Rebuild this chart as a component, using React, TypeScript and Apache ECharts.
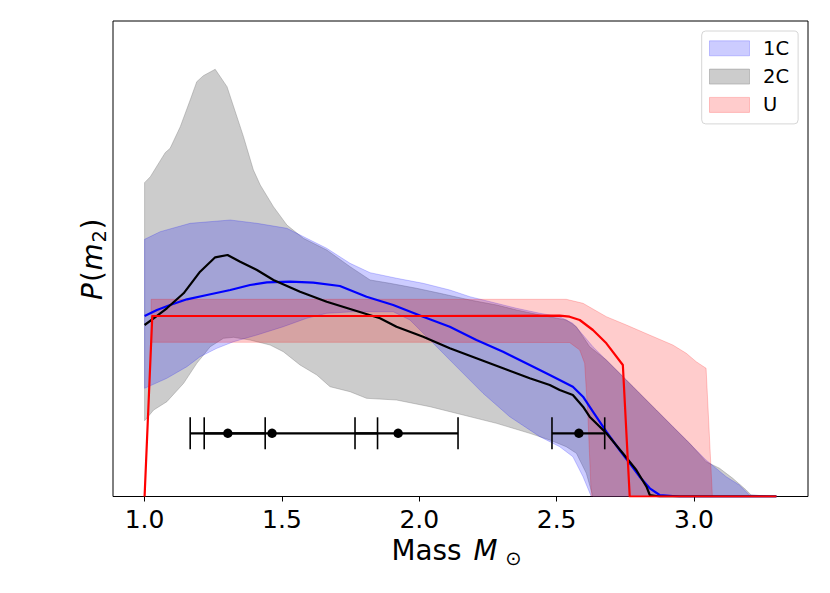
import { useEffect, useRef } from 'react';
import * as echarts from 'echarts';

// ---- axis ----
const xTicks = [1.0, 1.5, 2.0, 2.5, 3.0];
const xMin = 0.885;
const xMax = 3.415;
const yMin = 0;
const yMax = 4.755;

// ---- 1C band (blue) ----
const band1CUpper: number[][] = [
  [1.0, 2.572], [1.057, 2.648], [1.166, 2.732], [1.312, 2.765], [1.409, 2.732], [1.518, 2.682],
  [1.59, 2.582], [1.663, 2.482], [1.748, 2.332], [1.821, 2.238], [1.918, 2.182], [2.014, 2.132],
  [2.111, 2.065], [2.184, 1.998], [2.281, 1.932], [2.354, 1.882], [2.439, 1.832], [2.511, 1.798],
  [2.559, 1.732], [2.596, 1.615], [2.632, 1.498], [2.705, 1.298], [2.778, 1.098], [2.85, 0.898],
  [2.899, 0.765], [2.972, 0.565], [3.044, 0.365], [3.117, 0.198], [3.165, 0.115], [3.202, 0.015],
  [3.3, 0],
];
const band1CLower: number[][] = [
  [1.0, 1.082], [1.081, 1.182], [1.154, 1.298], [1.202, 1.398], [1.263, 1.482], [1.324, 1.548],
  [1.409, 1.615], [1.505, 1.698], [1.59, 1.782], [1.663, 1.832], [1.76, 1.848], [1.905, 1.848],
  [1.966, 1.765], [2.039, 1.565], [2.123, 1.332], [2.232, 1.032], [2.329, 0.798], [2.439, 0.598],
  [2.511, 0.498], [2.559, 0.398], [2.596, 0.198], [2.626, 0], [3.3, 0],
];

// ---- 2C band (grey) ----
const band2CUpper: number[][] = [
  [1.0, 3.138], [1.021, 3.198], [1.075, 3.438], [1.093, 3.482], [1.13, 3.698], [1.166, 3.965],
  [1.19, 4.148], [1.214, 4.208], [1.257, 4.272], [1.3, 4.098], [1.336, 3.798], [1.36, 3.598],
  [1.396, 3.265], [1.421, 3.115], [1.469, 2.898], [1.518, 2.715], [1.578, 2.582], [1.663, 2.465],
  [1.748, 2.298], [1.821, 2.165], [1.893, 2.132], [1.99, 2.082], [2.075, 2.032], [2.184, 1.965],
  [2.281, 1.915], [2.354, 1.865], [2.439, 1.815], [2.535, 1.765], [2.572, 1.698], [2.596, 1.598],
  [2.62, 1.498], [2.681, 1.365], [2.754, 1.165], [2.802, 1.032], [2.863, 0.865], [2.923, 0.698],
  [2.984, 0.532], [3.044, 0.348], [3.093, 0.282], [3.141, 0.182], [3.19, 0.065], [3.208, 0.015],
  [3.3, 0],
];
const band2CLower: number[][] = [
  [1.0, 0.758], [1.033, 0.865], [1.081, 0.948], [1.142, 1.132], [1.19, 1.332], [1.239, 1.498],
  [1.287, 1.582], [1.324, 1.592], [1.384, 1.565], [1.457, 1.515], [1.505, 1.448], [1.566, 1.315],
  [1.627, 1.215], [1.675, 1.098], [1.748, 1.048], [1.808, 0.982], [1.917, 0.965], [2.039, 0.898],
  [2.16, 0.815], [2.281, 0.732], [2.402, 0.632], [2.475, 0.565], [2.535, 0.498], [2.572, 0.432],
  [2.608, 0.232], [2.632, 0], [3.3, 0],
];

// ---- U band (red) ----
const bandUUpper: number[][] = [
  [1.024, 1.972], [1.5, 1.972], [2.0, 1.972], [2.535, 1.972], [2.596, 1.932], [2.681, 1.798],
  [2.754, 1.715], [2.838, 1.615], [2.923, 1.515], [2.972, 1.432], [3.008, 1.348], [3.044, 1.282],
  [3.067, 0], [3.3, 0],
];
const bandULower: number[][] = [
  [1.024, 1.542], [1.5, 1.542], [2.0, 1.542], [2.547, 1.54], [2.584, 1.465], [2.602, 1.332],
  [2.614, 0.798], [2.626, 0], [3.3, 0],
];

// ---- mean curves ----
const mean1C: number[][] = [
  [1.0, 1.805], [1.045, 1.865], [1.093, 1.915], [1.154, 1.972], [1.227, 2.015], [1.312, 2.065],
  [1.384, 2.115], [1.445, 2.142], [1.53, 2.148], [1.614, 2.138], [1.711, 2.105], [1.808, 1.998],
  [1.905, 1.915], [2.014, 1.798], [2.111, 1.698], [2.208, 1.565], [2.305, 1.448], [2.402, 1.315],
  [2.475, 1.215], [2.559, 1.098], [2.596, 0.998], [2.632, 0.848], [2.681, 0.648], [2.729, 0.465],
  [2.766, 0.332], [2.802, 0.198], [2.839, 0.082], [2.875, 0.015], [2.947, 0], [3.3, 0],
];
const mean2C: number[][] = [
  [1.0, 1.715], [1.033, 1.782], [1.081, 1.882], [1.142, 2.032], [1.202, 2.248], [1.257, 2.392],
  [1.302, 2.415], [1.348, 2.348], [1.409, 2.265], [1.469, 2.165], [1.566, 2.048], [1.663, 1.948],
  [1.76, 1.865], [1.857, 1.782], [1.917, 1.698], [2.014, 1.598], [2.111, 1.482], [2.208, 1.382],
  [2.305, 1.282], [2.402, 1.182], [2.475, 1.115], [2.511, 1.065], [2.559, 1.015], [2.596, 0.898],
  [2.62, 0.798], [2.681, 0.632], [2.741, 0.432], [2.79, 0.265], [2.827, 0.098], [2.839, 0.015],
  [2.875, 0], [3.3, 0],
];
const meanU: number[][] = [
  [1.0, 0], [1.028, 1.805], [1.5, 1.805], [2.0, 1.805], [2.511, 1.808], [2.547, 1.798],
  [2.584, 1.765], [2.632, 1.665], [2.681, 1.532], [2.741, 1.315], [2.766, 0], [3.3, 0],
];

// ---- measured masses with error bars ----
const errCenters = [1.303, 1.464, 1.923, 2.581];
const errLow = [1.166, 1.217, 1.766, 2.483];
const errHigh = [1.439, 1.848, 2.141, 2.675];
const errY = [0.632, 0.632, 0.632, 0.632];

const FONT = 'DejaVu Sans';

function bandSeries(name: string, upper: number[][], lower: number[][], color: string, z: number) {
  const poly = upper.concat(lower.slice().reverse());
  return {
    type: 'custom',
    name,
    coordinateSystem: 'cartesian2d',
    data: poly,
    clip: true,
    silent: true,
    z,
    itemStyle: { color, borderColor: color, borderWidth: 1 },
    renderItem: (params: any, api: any) => {
      if (params.dataIndex !== 0) return null;
      const pts = poly.map((p) => api.coord(p));
      return {
        type: 'polygon',
        shape: { points: pts },
        style: { fill: color, stroke: color, lineWidth: 1 },
      };
    },
  };
}

function lineSeries(name: string, data: number[][], color: string, z: number) {
  return {
    type: 'line',
    name,
    data,
    showSymbol: false,
    symbol: 'none',
    silent: true,
    z,
    lineStyle: { color, width: 2.2, join: 'round' },
    itemStyle: { color },
  };
}

export default function App() {
  const ref = useRef<HTMLDivElement>(null);
  useEffect(() => {
    if (!ref.current) return;
    const chart = echarts.init(ref.current, undefined, { renderer: 'svg' });
    const blue = 'rgba(0,0,255,0.2)';
    const grey = 'rgba(128,128,128,0.4)';
    const red = 'rgba(255,0,0,0.2)';
    chart.setOption({
      animation: false,
      backgroundColor: '#ffffff',
      grid: {
        left: 113,
        top: 21,
        width: 695,
        height: 475.5,
        show: true,
        borderColor: '#000',
        borderWidth: 1,
        backgroundColor: 'transparent',
      },
      legend: {
        orient: 'vertical',
        left: 701.7,
        top: 31,
        padding: [7.3, 9, 9, 7.3],
        itemWidth: 40,
        itemHeight: 15,
        itemGap: 8.3,
        borderColor: '#d6d6d6',
        borderWidth: 1,
        borderRadius: 4,
        backgroundColor: 'rgba(255,255,255,0.8)',
        selectedMode: false,
        textStyle: { fontFamily: FONT, fontSize: 19.5, color: '#000', lineHeight: 20, padding: [0, 0, 0, 8.6] },
        data: [
          { name: '1C', icon: 'rect', itemStyle: { color: blue, borderColor: blue, borderWidth: 1 } },
          { name: '2C', icon: 'rect', itemStyle: { color: grey, borderColor: grey, borderWidth: 1 } },
          { name: 'U', icon: 'rect', itemStyle: { color: red, borderColor: red, borderWidth: 1 } },
        ],
      },
      xAxis: {
        type: 'value',
        min: xMin,
        max: xMax,
        axisLine: { show: false },
        splitLine: { show: false },
        axisTick: {
          show: true,
          length: 5,
          customValues: xTicks,
          lineStyle: { color: '#000', width: 1 },
        },
        axisLabel: {
          customValues: xTicks,
          margin: 10,
          fontSize: 25,
          fontFamily: FONT,
          color: '#000',
          formatter: (v: number) => v.toFixed(1),
        },
      },
      yAxis: {
        type: 'value',
        min: yMin,
        max: yMax,
        axisLine: { show: false },
        axisTick: { show: false },
        axisLabel: { show: false },
        splitLine: { show: false },
      },
      graphic: [
        {
          type: 'text', x: 391.5, y: 550.8, z: 100,
          style: { text: 'Mass ', fontFamily: FONT, fontSize: 27.8, fill: '#000', textAlign: 'left', verticalAlign: 'middle' },
        },
        {
          type: 'text', x: 473.5, y: 550.8, z: 100,
          style: { text: 'M', fontFamily: FONT, fontStyle: 'italic', fontSize: 27.8, fill: '#000', textAlign: 'left', verticalAlign: 'middle' },
        },
        {
          type: 'text', x: 513.3, y: 558.8, z: 100,
          style: { text: '⊙', fontFamily: FONT, fontSize: 19.5, fill: '#000', textAlign: 'center', verticalAlign: 'middle' },
        },
        {
          type: 'group', x: 92.5, y: 259, rotation: Math.PI / 2, z: 100,
          children: [
            { type: 'text', x: -41, y: 0, style: { text: 'P', fontFamily: FONT, fontStyle: 'italic', fontSize: 27.8, fill: '#000', textAlign: 'left', verticalAlign: 'middle' } },
            { type: 'text', x: -23, y: 0, style: { text: '(', fontFamily: FONT, fontSize: 27.8, fill: '#000', textAlign: 'left', verticalAlign: 'middle' } },
            { type: 'text', x: -11.5, y: 0, style: { text: 'm', fontFamily: FONT, fontStyle: 'italic', fontSize: 27.8, fill: '#000', textAlign: 'left', verticalAlign: 'middle' } },
            { type: 'text', x: 16.5, y: 6.5, style: { text: '2', fontFamily: FONT, fontSize: 19.5, fill: '#000', textAlign: 'left', verticalAlign: 'middle' } },
            { type: 'text', x: 29.5, y: 0, style: { text: ')', fontFamily: FONT, fontSize: 27.8, fill: '#000', textAlign: 'left', verticalAlign: 'middle' } },
          ],
        },
      ],
      series: [
        bandSeries('2C', band2CUpper, band2CLower, grey, 1),
        bandSeries('1C', band1CUpper, band1CLower, blue, 2),
        bandSeries('U', bandUUpper, bandULower, red, 3),
        lineSeries('1C mean', mean1C, '#0000ff', 4),
        lineSeries('2C mean', mean2C, '#000000', 5),
        lineSeries('U mean', meanU, '#ff0000', 6),
        {
          type: 'custom',
          name: 'measured',
          coordinateSystem: 'cartesian2d',
          silent: true,
          z: 7,
          data: errCenters.map((c, i) => [c, errY[i], errLow[i], errHigh[i]]),
          encode: { x: 0, y: 1 },
          renderItem: (_params: any, api: any) => {
            const y = api.value(1);
            const c = api.coord([api.value(0), y]);
            const lo = api.coord([api.value(2), y]);
            const hi = api.coord([api.value(3), y]);
            const cap = 16;
            return {
              type: 'group',
              children: [
                { type: 'line', shape: { x1: lo[0], y1: lo[1], x2: hi[0], y2: hi[1] }, style: { stroke: '#000', lineWidth: 2.2 } },
                { type: 'line', shape: { x1: lo[0], y1: lo[1] - cap, x2: lo[0], y2: lo[1] + cap }, style: { stroke: '#000', lineWidth: 1.6 } },
                { type: 'line', shape: { x1: hi[0], y1: hi[1] - cap, x2: hi[0], y2: hi[1] + cap }, style: { stroke: '#000', lineWidth: 1.6 } },
                { type: 'circle', shape: { cx: c[0], cy: c[1], r: 4.7 }, style: { fill: '#000' } },
              ],
            };
          },
        },
      ],
    });
    return () => chart.dispose();
  }, []);
  return <div ref={ref} style={{ position: 'absolute', left: 0, top: 0, width: 830, height: 593 }} />;
}
